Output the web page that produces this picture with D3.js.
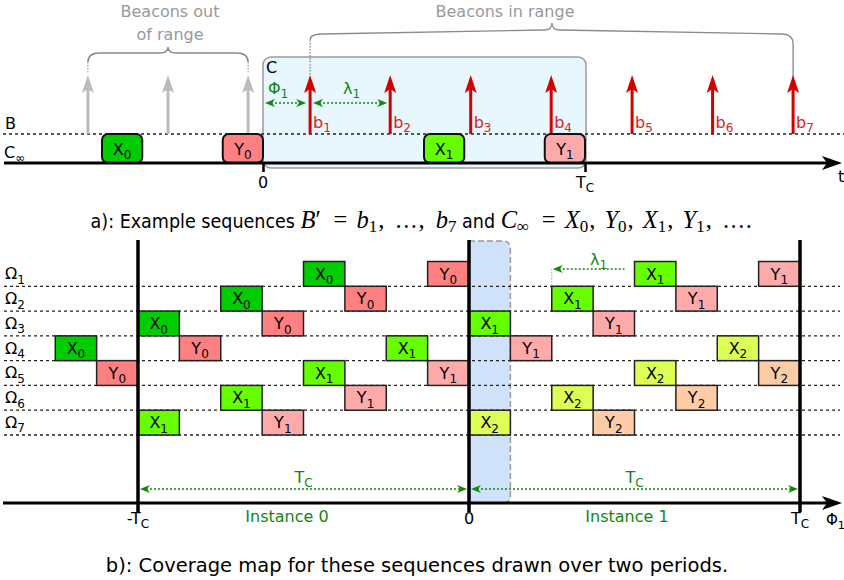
<!DOCTYPE html>
<html>
<head>
<meta charset="utf-8">
<script src="https://cdn.jsdelivr.net/npm/d3@7"></script>
<style>
  body { margin: 0; background: #fff; }
  svg { display: block; }
  text { font-family: "DejaVu Sans", sans-serif; }
</style>
</head>
<body>
<svg id="fig" width="844" height="580"></svg>
<script>
// ---- data (time in slots of Tc/8) ----
var seqNames = ["X0", "Y0", "X1", "Y1"];
var seqStarts = [-4, -1, 4, 7];
var greyBeacons = [-4.35, -2.36, -0.37];
var beacons = [1.17, 3.16, 5.16, 7.16, 9.17, 11.17, 13.17];
var beaconNames = ["b1", "b2", "b3", "b4", "b5", "b6", "b7"];
var topTicks = [0, 8];
var topTickLabels = [["0", ""], ["T", "C"]];

var rowNames = ["Ω1", "Ω2", "Ω3", "Ω4", "Ω5", "Ω6", "Ω7"];
var cellNames = [
  ["X0", "Y0", "X1", "Y1"],
  ["X0", "Y0", "X1", "Y1"],
  ["X0", "Y0", "X1", "Y1"],
  ["X0", "Y0", "X1", "Y1", "X2"],
  ["Y0", "X1", "Y1", "X2", "Y2"],
  ["X1", "Y1", "X2", "Y2"],
  ["X1", "Y1", "X2", "Y2"]
];
var cellStarts = [
  [-4, -1, 4, 7],
  [-6, -3, 2, 5],
  [-8, -5, 0, 3],
  [-10, -7, -2, 1, 6],
  [-9, -4, -1, 4, 7],
  [-6, -3, 2, 5],
  [-8, -5, 0, 3]
];
var bottomTicks = [-8, 0, 8];
var bottomTickLabels = [["-T", "C"], ["0", ""], ["T", "C"]];
var instances = ["Instance 0", "Instance 1"];

var fills = { X0: "#00cc00", X1: "#66ff00", X2: "#ddff55",
              Y0: "#ff8080", Y1: "#ffaaaa", Y2: "#ffcca8" };
var green = "#0f880f", red = "#d40000", grey = "#bbbbbb";

var svg = d3.select("#fig");

function subText(g, x, y, base, sub, size, anchor, fill) {
  var t = g.append("text").attr("x", x).attr("y", y)
    .attr("font-size", size).attr("text-anchor", anchor || "start")
    .attr("fill", fill || "#000");
  t.append("tspan").text(base);
  if (sub) t.append("tspan").attr("dy", size * 0.28).attr("font-size", size * 0.75).text(sub);
  return t;
}

function upArrow(g, x, y0, yTip, color) {
  g.append("line").attr("x1", x).attr("x2", x).attr("y1", y0).attr("y2", yTip + 10)
    .attr("stroke", color).attr("stroke-width", 3);
  g.append("path")
    .attr("d", "M" + x + "," + yTip + " L" + (x - 6) + "," + (yTip + 18) + " L" + x + "," + (yTip + 14) +
      " L" + (x + 6) + "," + (yTip + 18) + " Z")
    .attr("fill", color);
}

function head(g, x, y, dir, color) {
  // small notched arrowhead pointing in dir (+1 right, -1 left)
  return g.append("path")
    .attr("d", "M" + x + "," + y + " L" + (x - dir * 10) + "," + (y - 4) + " L" + (x - dir * 7) + "," + y +
      " L" + (x - dir * 10) + "," + (y + 4) + " Z")
    .attr("fill", color);
}

function dimArrow(g, x1, x2, y, color, right, left) {
  g.append("line").attr("x1", x1 + 6).attr("x2", x2 - 6).attr("y1", y).attr("y2", y)
    .attr("stroke", color).attr("stroke-width", 1.5).attr("stroke-dasharray", "2,2");
  if (right) head(g, x2, y, 1, color);
  if (left) head(g, x1, y, -1, color);
}

function brace(x1, x2, xTip, yE1, yA, yB, yTip, yC, yE2) {
  return "M" + x1 + "," + yE1 + " Q" + x1 + "," + yA + " " + (x1 + 12) + "," + yA +
    " L" + (xTip - 8) + "," + yB + " Q" + xTip + "," + yB + " " + xTip + "," + yTip +
    " Q" + xTip + "," + yB + " " + (xTip + 8) + "," + yB +
    " L" + (x2 - 12) + "," + yC + " Q" + x2 + "," + yC + " " + x2 + "," + yE2;
}

// ================= panel a =================
var xt = d3.scaleLinear().domain([0, 8]).range([263, 585]);
var yB = 134, yC = 163;
var pa = svg.append("g");

// C window
pa.append("rect").attr("x", xt(0)).attr("y", 57)
  .attr("width", xt(8) - xt(0) + 1).attr("height", 111).attr("rx", 8)
  .attr("fill", "#e8f6fd").attr("stroke", "#9a9a9a").attr("stroke-width", 1.5);
pa.append("text").attr("x", xt(0) + 3).attr("y", 73).attr("font-size", 16).text("C");

// B line
pa.append("line").attr("x1", 3).attr("x2", 844).attr("y1", yB).attr("y2", yB)
  .attr("stroke", "#222").attr("stroke-width", 1.3).attr("stroke-dasharray", "3,3");
pa.append("text").attr("x", 5).attr("y", 129).attr("font-size", 16).text("B");
subText(pa, 4, 158, "C", "∞", 16);

// grey beacons and brace
greyBeacons.forEach(function (b) { upArrow(pa, xt(b), yB, 75, grey); });
pa.append("path")
  .attr("d", brace(xt(greyBeacons[0]), xt(greyBeacons[2]), xt(greyBeacons[1]), 62, 53, 53, 47, 53, 62))
  .attr("fill", "none").attr("stroke", "#8a8a8a").attr("stroke-width", 1.5);
[greyBeacons[0], greyBeacons[2]].forEach(function (b) {
  pa.append("line").attr("x1", xt(b)).attr("x2", xt(b)).attr("y1", 62).attr("y2", 74)
    .attr("stroke", "#8a8a8a").attr("stroke-width", 1).attr("stroke-dasharray", "1.5,1.5");
});
pa.append("text").attr("x", 170).attr("y", 17).attr("font-size", 16).attr("text-anchor", "middle")
  .attr("fill", "#999").text("Beacons out");
pa.append("text").attr("x", 170).attr("y", 40).attr("font-size", 16).attr("text-anchor", "middle")
  .attr("fill", "#999").text("of range");

// in-range brace
var bx1 = xt(beacons[0]), bx2 = xt(beacons[beacons.length - 1]);
pa.append("path")
  .attr("d", brace(bx1, bx2, 552, 40, 34, 30, 23, 34, 44) + " L" + bx2 + "," + yB)
  .attr("fill", "none").attr("stroke", "#8a8a8a").attr("stroke-width", 1.3);
pa.append("line").attr("x1", bx1).attr("x2", bx1).attr("y1", 40).attr("y2", 76)
  .attr("stroke", "#666").attr("stroke-width", 1).attr("stroke-dasharray", "1.5,1.5");
pa.append("text").attr("x", 505).attr("y", 17).attr("font-size", 16).attr("text-anchor", "middle")
  .attr("fill", "#999").text("Beacons in range");

// red beacons
beacons.forEach(function (b, i) {
  upArrow(pa, xt(b), yB, 75, red);
  subText(pa, xt(b) + 3, 128, beaconNames[i][0], beaconNames[i].slice(1), 16, "start", "#dd2020");
});

// phase and interval arrows
dimArrow(pa, xt(0) + 2, xt(beacons[0]) - 4, 103, green, true, true);
dimArrow(pa, xt(beacons[0]) + 3, xt(beacons[1]) - 3, 103, green, true, true);
subText(pa, xt(0) + 5, 94, "Φ", "1", 16, "start", green);
subText(pa, 343, 94, "λ", "1", 16, "start", green);

// sequence boxes
seqNames.forEach(function (n, i) {
  pa.append("rect").attr("x", xt(seqStarts[i])).attr("y", yB)
    .attr("width", xt(seqStarts[i] + 1) - xt(seqStarts[i])).attr("height", yC - yB)
    .attr("rx", 6).attr("fill", fills[n]).attr("stroke", "#111").attr("stroke-width", 2);
  subText(pa, (xt(seqStarts[i]) + xt(seqStarts[i] + 1)) / 2, 155, n[0], n.slice(1), 16, "middle");
});

// time axis
var axTop = d3.axisBottom(xt).tickValues(topTicks).tickSize(9).tickFormat("");
var gAx = pa.append("g").attr("transform", "translate(0," + yC + ")").call(axTop);
gAx.select(".domain").remove();
gAx.selectAll(".tick line").attr("stroke", "#000").attr("stroke-width", 2.5);
pa.append("line").attr("x1", 4).attr("x2", 828).attr("y1", yC).attr("y2", yC)
  .attr("stroke", "#000").attr("stroke-width", 3);
pa.append("path").attr("d", "M842," + yC + " L822," + (yC - 7) + " L827," + yC + " L822," + (yC + 7) + " Z");
topTicks.forEach(function (v, i) {
  subText(pa, xt(v), 188, topTickLabels[i][0], topTickLabels[i][1], 16, "middle");
});
pa.append("text").attr("x", 838).attr("y", 182).attr("font-size", 16).text("t");

// caption a
var capA = svg.append("text").attr("x", 422).attr("y", 228).attr("text-anchor", "middle")
  .attr("font-size", 19.5);
var sans = "DejaVu Sans Condensed, DejaVu Sans, sans-serif", serif = "Liberation Serif, serif";
var pieces = [
  ["a): Example sequences ", "s"], ["B", "i"], ["′", "r"], [" = ", "r", 5], ["b", "i"], ["1", "b"],
  [",\u2004...,\u2004", "r", 1], ["b", "i"], ["7", "b"], [" and ", "s"], ["C", "i"], ["∞", "b"], [" = ", "r", 5],
  ["X", "i"], ["0", "b"], [",\u2005", "r", 1], ["Y", "i"], ["0", "b"], [",\u2005", "r", 1], ["X", "i"], ["1", "b"],
  [",\u2005", "r", 1], ["Y", "i"], ["1", "b"], [",\u2004....", "r", 1]
];
var shifted = false;
pieces.forEach(function (p) {
  var ts = capA.append("tspan").text(p[0]);
  if (p[1] === "s") ts.attr("font-family", sans);
  else ts.attr("font-family", serif).attr("font-size", p[1] === "b" ? 17 : 24.5);
  if (p[1] === "i") ts.attr("font-style", "italic");
  if (p[2]) ts.attr("dx", p[2]).attr("letter-spacing", 1.5);
  if (p[1] === "b") { ts.attr("dy", 4); shifted = true; }
  else if (shifted) { ts.attr("dy", -4); shifted = false; }
});

// ================= panel b =================
var xb = d3.scaleLinear().domain([0, 8]).range([469, 800]);
var yr = d3.scaleBand().domain(rowNames).range([261.5, 435]);
var pb = svg.append("g");
var yAx = 503;

// coverage window for the first slot
var wx0 = xb(0), wx1 = xb(1), wy0 = 241, r8 = 8;
pb.append("path")
  .attr("d", "M" + wx0 + "," + wy0 + " H" + (wx1 - r8) + " Q" + wx1 + "," + wy0 + " " + wx1 + "," + (wy0 + r8) +
    " V" + (yAx - r8) + " Q" + wx1 + "," + yAx + " " + (wx1 - r8) + "," + yAx + " H" + wx0 + " Z")
  .attr("fill", "#cfe2fa").attr("stroke", "#999").attr("stroke-width", 1.5)
  .attr("stroke-dasharray", "6,3");

// row guides
rowNames.forEach(function (r) {
  var y = yr(r) + yr.bandwidth();
  pb.append("line").attr("x1", 4).attr("x2", 840).attr("y1", y).attr("y2", y)
    .attr("stroke", "#222").attr("stroke-width", 1.3).attr("stroke-dasharray", "3,3");
  subText(pb, 5, y - 7, r[0], r.slice(1), 16);
});

// cells
rowNames.forEach(function (r, i) {
  cellNames[i].forEach(function (n, j) {
    var s = cellStarts[i][j];
    pb.append("rect").attr("x", xb(s)).attr("y", yr(r))
      .attr("width", xb(s + 1) - xb(s)).attr("height", yr.bandwidth())
      .attr("fill", fills[n]).attr("stroke", "#222").attr("stroke-width", 1.5);
    subText(pb, (xb(s) + xb(s + 1)) / 2, yr(r) + 18, n[0], n.slice(1), 16, "middle");
  });
});

// lambda shift marker
pb.append("line").attr("x1", xb(2)).attr("x2", xb(2)).attr("y1", 269).attr("y2", yr("Ω1") + yr.bandwidth())
  .attr("stroke", "#aaa").attr("stroke-width", 1).attr("stroke-dasharray", "1.5,1.5");
dimArrow(pb, xb(2) + 1, xb(4) - 4, 269, green, false, true);
subText(pb, 590, 265, "λ", "1", 16, "start", green);

// period boundaries
bottomTicks.forEach(function (v, i) {
  pb.append("line").attr("x1", xb(v)).attr("x2", xb(v)).attr("y1", 240).attr("y2", 512)
    .attr("stroke", "#000").attr("stroke-width", 3.5);
  subText(pb, xb(v), 524, bottomTickLabels[i][0], bottomTickLabels[i][1], 16, "middle");
});

// axis
pb.append("line").attr("x1", 3).attr("x2", 828).attr("y1", yAx).attr("y2", yAx)
  .attr("stroke", "#000").attr("stroke-width", 3);
pb.append("path").attr("d", "M842," + yAx + " L822," + (yAx - 7) + " L827," + yAx + " L822," + (yAx + 7) + " Z");
subText(pb, 826, 525, "Φ", "1", 15);

// period dimension arrows
dimArrow(pb, xb(-8) + 2, xb(0) - 2, 489, green, true, true);
dimArrow(pb, xb(0) + 2, xb(8) - 2, 489, green, true, true);
subText(pb, xb(-4), 483, "T", "C", 16, "middle", green);
subText(pb, xb(4), 483, "T", "C", 16, "middle", green);
pb.append("text").attr("x", 287).attr("y", 522).attr("text-anchor", "middle").attr("font-size", 16)
  .attr("font-family", sans).attr("fill", green).text(instances[0]);
pb.append("text").attr("x", 627).attr("y", 522).attr("text-anchor", "middle").attr("font-size", 16)
  .attr("font-family", sans).attr("fill", green).text(instances[1]);

// caption b
svg.append("text").attr("x", 417).attr("y", 572).attr("text-anchor", "middle").attr("font-size", 19.5)
  .attr("font-family", sans).text("b): Coverage map for these sequences drawn over two periods.");
</script>
</body>
</html>
